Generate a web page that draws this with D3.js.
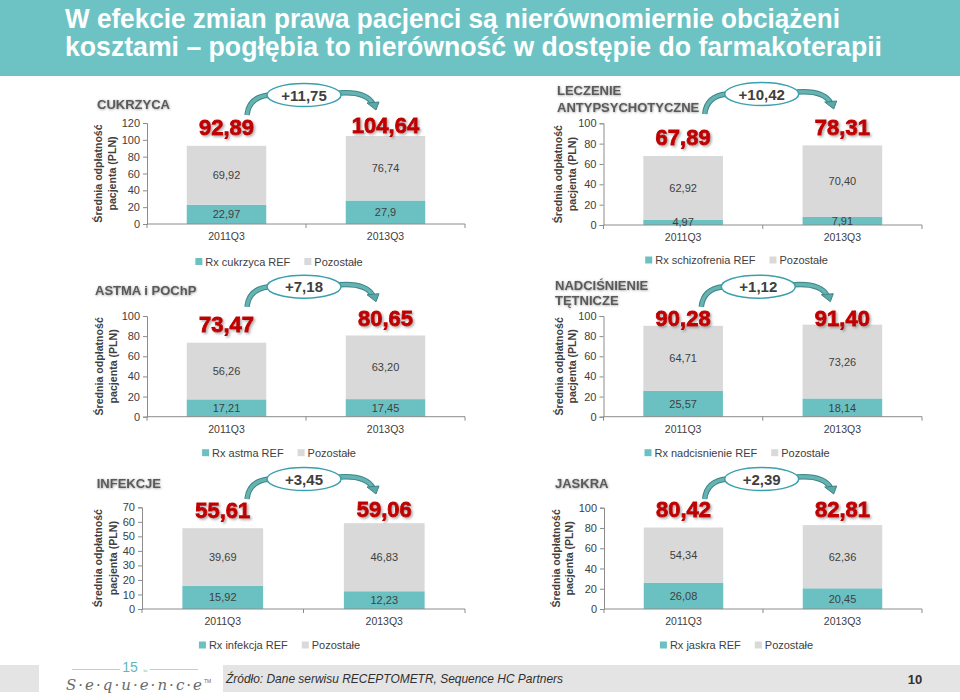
<!DOCTYPE html>
<html><head><meta charset="utf-8">
<script src="https://cdn.jsdelivr.net/npm/d3@7"></script>
<style>body{margin:0;background:#fff}svg{display:block}</style>
</head><body><svg id="c" width="960" height="700"></svg>
<script>
// ---------- DATA ----------
const title = ["W efekcie zmian prawa pacjenci są nierównomiernie obciążeni",
               "kosztami – pogłębia to nierówność w dostępie do farmakoterapii"];
const categories = ["2011Q3", "2013Q3"];
const panelTitles = [["CUKRZYCA"], ["LECZENIE", "ANTYPSYCHOTYCZNE"], ["ASTMA i POChP"],
                     ["NADCIŚNIENIE", "TĘTNICZE"], ["INFEKCJE"], ["JASKRA"]];
const refSeriesNames = ["Rx cukrzyca REF", "Rx schizofrenia REF", "Rx astma REF",
                        "Rx nadcisnienie REF", "Rx infekcja REF", "Rx jaskra REF"];
const otherSeriesName = "Pozostałe";
const refValues = [["22,97", "27,9"], ["4,97", "7,91"], ["17,21", "17,45"],
                   ["25,57", "18,14"], ["15,92", "12,23"], ["26,08", "20,45"]];
const otherValues = [["69,92", "76,74"], ["62,92", "70,40"], ["56,26", "63,20"],
                     ["64,71", "73,26"], ["39,69", "46,83"], ["54,34", "62,36"]];
const yMax = [120, 100, 100, 100, 70, 100];
const yStep = [20, 20, 20, 20, 10, 20];
const yAxisTitle = ["Średnia odpłatność", "pacjenta (PLN)"];
const sourceText = "Źródło: Dane serwisu RECEPTOMETR, Sequence HC Partners";
const pageNo = "10";

// ---------- LAYOUT ----------
const L = [
 {x0:147, x1:465, yB:224,   yT:123,   tx:97,  ty:[104],       ex:304,   ey:95,    yl:[98,112],   cy:237.5, lx:279,   ly:261.5},
 {x0:603.5,x1:922,yB:225,   yT:123.3, tx:557, ty:[90,107],    ex:761.7, ey:94,    yl:[558,572],  cy:238.5, lx:736.5, ly:260},
 {x0:147, x1:465, yB:416.7, yT:316,   tx:95,  ty:[290],       ex:304,   ey:286.7, yl:[99,113],   cy:430,   lx:279,   ly:452.7},
 {x0:603.5,x1:922,yB:416.7, yT:316,   tx:555, ty:[285,300.7], ex:758.3, ey:286.7, yl:[559,572],  cy:430,   lx:737,   ly:452.7},
 {x0:142, x1:465, yB:609,   yT:507.3, tx:96.7,ty:[483],       ex:304,   ey:479,   yl:[98,112.5], cy:621.7, lx:279.5, ly:645},
 {x0:604, x1:922, yB:609,   yT:507.7, tx:555, ty:[483],       ex:761.7, ey:479,   yl:[556,569],  cy:621.7, lx:736.5, ly:645}
];
const TEAL = "#6BC1C2", GREY = "#D9D9D9", TXT = "#404040", RED = "#C00000", AX = "#8C8C8C";
const num = s => +s.replace(",", ".");
const fmt2 = v => d3.format(".2f")(v).replace(".", ",");

const svg = d3.select("#c");
const defs = svg.append("defs");
const f1 = defs.append("filter").attr("id","sh").attr("x","-20%").attr("y","-30%").attr("width","150%").attr("height","170%");
f1.append("feDropShadow").attr("dx",1.5).attr("dy",1.5).attr("stdDeviation",1).attr("flood-color","#777").attr("flood-opacity",0.6);
const f2 = defs.append("filter").attr("id","glow").attr("x","-10%").attr("y","-40%").attr("width","120%").attr("height","180%");
f2.append("feDropShadow").attr("dx",0.5).attr("dy",0.5).attr("stdDeviation",1.3).attr("flood-color","#8a8a8a").attr("flood-opacity",0.9);

// Title band
svg.append("rect").attr("x",0).attr("y",0).attr("width",960).attr("height",76).attr("fill","#6DC3C3");
svg.selectAll("text.title").data(title).join("text").attr("class","title")
  .attr("x",65).attr("y",(d,i)=>28+i*28)
  .attr("textLength",(d,i)=>i===0?775:817).attr("lengthAdjust","spacingAndGlyphs")
  .attr("fill","#fff").attr("font-family","'Liberation Sans Narrow','Arial Narrow','Liberation Sans',sans-serif")
  .attr("font-weight","bold").attr("font-size",27).text(d=>d);

// Panels
L.forEach((p, k) => {
  const g = svg.append("g");
  const x = d3.scaleBand().domain(categories).range([p.x0, p.x1]).paddingInner(0.5).paddingOuter(0.25);
  const y = d3.scaleLinear().domain([0, yMax[k]]).range([p.yB, p.yT]);
  const ref = refValues[k].map(num), oth = otherValues[k].map(num);
  const tot = ref.map((r,i)=>r+oth[i]);

  // y axis
  const ya = g.append("g").attr("transform",`translate(${p.x0},0)`)
    .call(d3.axisLeft(y).tickValues(d3.range(0, yMax[k]+0.001, yStep[k])).tickSize(4).tickPadding(3).tickFormat(d3.format("d")));
  ya.select(".domain").attr("stroke",AX);
  ya.selectAll(".tick line").attr("stroke",AX);
  ya.selectAll(".tick text").attr("fill",TXT).attr("font-size",11).attr("font-family","'Liberation Sans',Arial,sans-serif");

  // bars
  const bw = x.bandwidth();
  g.selectAll("rect.ref").data(categories).join("rect")
    .attr("x",d=>x(d)).attr("width",bw)
    .attr("y",(d,i)=>y(ref[i])).attr("height",(d,i)=>y(0)-y(ref[i])).attr("fill",TEAL);
  g.selectAll("rect.oth").data(categories).join("rect")
    .attr("x",d=>x(d)).attr("width",bw)
    .attr("y",(d,i)=>y(tot[i])).attr("height",(d,i)=>y(ref[i])-y(tot[i])).attr("fill",GREY);

  // x axis
  const xa = g.append("g").attr("transform",`translate(0,${p.yB})`)
    .call(d3.axisBottom(x).tickSize(0).tickPadding(9));
  xa.select(".domain").attr("stroke",AX).attr("d",`M${p.x0},0H${p.x1}`);
  xa.selectAll(".tick text").attr("fill",TXT).attr("font-size",10.5).attr("font-family","'Liberation Sans',Arial,sans-serif");
  const step = x.step();
  [p.x0, p.x0+step, p.x1].forEach(tx=>{
    xa.append("line").attr("x1",tx).attr("x2",tx).attr("y1",0).attr("y2",4).attr("stroke",AX);
  });

  // inner labels
  const lab = (txt, cx, cy) => g.append("text").attr("x",cx).attr("y",cy).attr("text-anchor","middle")
     .attr("dominant-baseline","central").attr("fill",TXT).attr("font-size",11)
     .attr("font-family","'Liberation Sans',Arial,sans-serif").text(txt);
  categories.forEach((c,i)=>{
    lab(refValues[k][i], x(c)+bw/2, (y(0)+y(ref[i]))/2);
    lab(otherValues[k][i], x(c)+bw/2, (y(ref[i])+y(tot[i]))/2);
    // totals
    g.append("text").attr("x",x(c)+bw/2).attr("y",Math.max(y(tot[i])-18, p.yT+2))
      .attr("text-anchor","middle").attr("dominant-baseline","central")
      .attr("fill",RED).attr("stroke",RED).attr("stroke-width",0.9)
      .attr("font-size",22).attr("font-weight","bold").attr("filter","url(#sh)")
      .attr("font-family","'Liberation Sans',Arial,sans-serif").text(fmt2(tot[i]));
  });

  // y title
  yAxisTitle.forEach((t,i)=>{
    const cx = p.yl[i], cyy = (p.yB+p.yT)/2;
    g.append("text").attr("transform",`translate(${cx},${cyy}) rotate(-90)`)
      .attr("text-anchor","middle").attr("dominant-baseline","central")
      .attr("fill",TXT).attr("font-weight","bold").attr("font-size",10.6)
      .attr("font-family","'Liberation Sans',Arial,sans-serif").text(t);
  });

  // panel title
  panelTitles[k].forEach((t,i)=>{
    g.append("text").attr("x",p.tx).attr("y",p.ty[i]).attr("dominant-baseline","central")
      .attr("fill","#5a5a5a").attr("font-weight","bold").attr("font-size",13).attr("filter","url(#glow)")
      .attr("font-family","'Liberation Sans',Arial,sans-serif").text(t);
  });

  // arrows
  const ex = p.ex, ey = p.ey;
  const leftPath = `M${ex-57},${ey+20} Q${ex-55},${ey+2} ${ex-35},${ey}`;
  const rightPath = `M${ex+35},${ey-2} Q${ex+62},${ey-4} ${ex+69},${ey+9}`;
  [leftPath, rightPath].forEach(d=>{
    g.append("path").attr("d",d).attr("fill","none").attr("stroke","#3E8585").attr("stroke-width",5.5);
    g.append("path").attr("d",d).attr("fill","none").attr("stroke","#66B3B3").attr("stroke-width",3.5);
  });
  g.append("path").attr("d",`M${ex+63},${ey+8} L${ex+75},${ey+7} L${ex+72},${ey+15} Z`)
    .attr("fill","#5AA8A8").attr("stroke","#3E8585").attr("stroke-width",1);
  // ellipse with delta
  g.append("ellipse").attr("cx",ex).attr("cy",ey).attr("rx",37).attr("ry",11.5)
    .attr("fill","#fff").attr("stroke","#3AA0AE").attr("stroke-width",1.5);
  g.append("text").attr("x",ex).attr("y",ey).attr("text-anchor","middle").attr("dominant-baseline","central")
    .attr("fill",TXT).attr("font-weight","bold").attr("font-size",15)
    .attr("font-family","'Liberation Sans',Arial,sans-serif").text("+"+fmt2(tot[1]-tot[0]));

  // legend
  const lg = g.append("g");
  const items = [{n:refSeriesNames[k],c:TEAL},{n:otherSeriesName,c:GREY}];
  let cx = 0;
  items.forEach((it,i)=>{
    lg.append("rect").attr("x",cx).attr("y",-3.5).attr("width",7).attr("height",7).attr("fill",it.c);
    const t = lg.append("text").attr("x",cx+10).attr("y",0).attr("dominant-baseline","central")
      .attr("fill",TXT).attr("font-size",11).attr("font-family","'Liberation Sans',Arial,sans-serif").text(it.n);
    cx += 10 + t.node().getComputedTextLength() + 14;
  });
  const w = cx - 14;
  lg.attr("transform",`translate(${p.lx - w/2},${p.ly})`);
});

// Footer
svg.append("rect").attr("x",0).attr("y",665).attr("width",39).attr("height",27).attr("fill","#E4E4E4");
svg.append("rect").attr("x",223).attr("y",665).attr("width",737).attr("height",27).attr("fill","#E4E4E4");
svg.append("text").attr("x",226).attr("y",683).attr("textLength",337).attr("lengthAdjust","spacingAndGlyphs")
  .attr("font-style","italic").attr("font-size",13).attr("fill","#303030")
  .attr("font-family","'Liberation Sans Narrow','Arial Narrow','Liberation Sans',sans-serif").text(sourceText);
svg.append("text").attr("x",915).attr("y",684).attr("text-anchor","middle").attr("font-size",13)
  .attr("font-weight","bold").attr("fill","#303030").attr("font-family","'Liberation Sans',Arial,sans-serif").text(pageNo);
// logo
svg.append("line").attr("x1",72).attr("x2",120).attr("y1",669.5).attr("y2",669.5).attr("stroke","#A8D8D8").attr("stroke-width",1);
svg.append("line").attr("x1",150).attr("x2",198).attr("y1",669.5).attr("y2",669.5).attr("stroke","#A8D8D8").attr("stroke-width",1);
svg.append("text").attr("x",130).attr("y",672).attr("text-anchor","middle").attr("font-size",14)
  .attr("fill","#5FB8B8").attr("font-family","'Liberation Sans',Arial,sans-serif").text("15");
svg.append("text").attr("x",143.5).attr("y",672).attr("font-size",3.5).attr("fill","#5FB8B8")
  .attr("font-family","'Liberation Sans',Arial,sans-serif").text("lat");
svg.append("text").attr("x",66).attr("y",690).attr("textLength",136).attr("lengthAdjust","spacing")
  .attr("font-size",15).attr("font-style","italic").attr("fill","#6a6a6a")
  .attr("font-family","'DejaVu Serif','Liberation Serif',serif").text("S·e·q·u·e·n·c·e");
svg.append("text").attr("x",204).attr("y",683).attr("font-size",5).attr("fill","#6a6a6a")
  .attr("font-family","'Liberation Sans',Arial,sans-serif").text("TM");
</script></body></html>
